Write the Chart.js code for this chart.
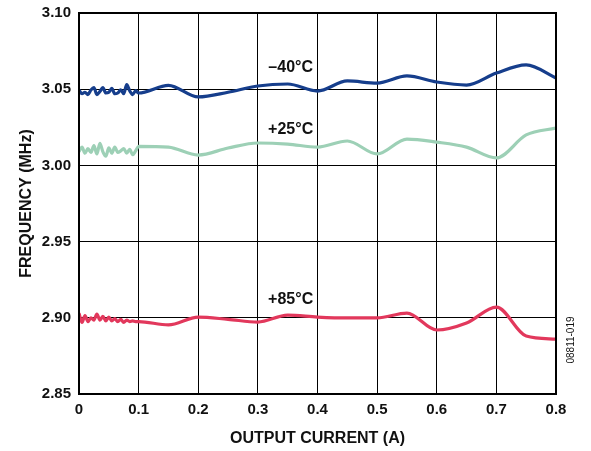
<!DOCTYPE html>
<html>
<head>
<meta charset="utf-8">
<script src="https://cdn.jsdelivr.net/npm/chart.js@4"></script>
<style>
  html, body { margin: 0; padding: 0; background: #fff; }
  #wrap { width: 591px; height: 451px; }
</style>
</head>
<body>
<div id="wrap"><canvas id="chart" width="591" height="451"></canvas></div>
<script>
// output current (A)
const currentA = [
  0, 0.005, 0.01, 0.015, 0.02, 0.025, 0.03, 0.035, 0.04, 0.045, 0.05,
  0.055, 0.06, 0.065, 0.07, 0.075, 0.08, 0.085, 0.09, 0.095, 0.1,
  0.15, 0.2, 0.25, 0.3, 0.35, 0.4, 0.45, 0.5, 0.55, 0.6, 0.65, 0.7, 0.75, 0.8
];

// frequency (MHz) per temperature
const freqM40 = [
  3.0495, 3.047, 3.048, 3.0465, 3.0495, 3.051, 3.0465, 3.0485, 3.051, 3.0475, 3.048,
  3.0505, 3.047, 3.0475, 3.0495, 3.047, 3.053, 3.049, 3.0465, 3.049, 3.0475,
  3.0525, 3.0449, 3.048, 3.0521, 3.0534, 3.0488, 3.0554, 3.054, 3.0587, 3.0547, 3.0527, 3.0606, 3.0659, 3.0573
];
const freq25 = [
  3.009, 3.012, 3.008, 3.011, 3.0085, 3.013, 3.0075, 3.0145, 3.009, 3.006, 3.0115,
  3.008, 3.012, 3.0085, 3.0095, 3.011, 3.008, 3.0105, 3.007, 3.0095, 3.0125,
  3.012, 3.0068, 3.0114, 3.0147, 3.014, 3.012, 3.016, 3.0075, 3.0173, 3.0153, 3.012, 3.0049, 3.020, 3.0245
];
const freq85 = [
  2.903, 2.897, 2.9015, 2.8975, 2.900, 2.8985, 2.9025, 2.8985, 2.901, 2.898, 2.9005,
  2.898, 2.8995, 2.8975, 2.899, 2.897, 2.8985, 2.8975, 2.898, 2.8975, 2.8975,
  2.8953, 2.9005, 2.899, 2.8972, 2.9018, 2.9005, 2.8999, 2.8999, 2.9031, 2.892, 2.8966, 2.907, 2.888, 2.886
];

const seriesNames = ['\u201340\u00B0C', '+25\u00B0C', '+85\u00B0C'];
const seriesColors = ['#163e8c', '#9dd0b6', '#e2385c'];
// where each curve label sits (data coords)
const labelX = [0.355, 0.355, 0.355];
const labelY = [3.0639, 3.0232, 2.9117];

const FONT = '"Liberation Sans", Arial, Helvetica, sans-serif';

function pts(ys) {
  return currentA.map((x, i) => ({ x: x, y: ys[i] }));
}

const frame = {
  id: 'frame',
  afterDraw(chart) {
    const { ctx, chartArea: a } = chart;
    ctx.save();
    ctx.strokeStyle = '#000';
    ctx.lineWidth = 2;
    ctx.strokeRect(a.left, a.top, a.right - a.left, a.bottom - a.top);
    ctx.restore();
  }
};

const curveLabels = {
  id: 'curveLabels',
  afterDatasetsDraw(chart) {
    const { ctx, scales } = chart;
    ctx.save();
    ctx.fillStyle = '#111';
    ctx.font = 'bold 16px ' + FONT;
    ctx.textAlign = 'center';
    ctx.textBaseline = 'middle';
    seriesNames.forEach((name, i) => {
      ctx.fillText(name, scales.x.getPixelForValue(labelX[i]), scales.y.getPixelForValue(labelY[i]));
    });
    // figure code on the right side
    ctx.font = '10px ' + FONT;
    ctx.translate(571, 340);
    ctx.rotate(-Math.PI / 2);
    ctx.fillText('08811-019', 0, 0);
    ctx.restore();
  }
};

const ctx = document.getElementById('chart').getContext('2d');
new Chart(ctx, {
  type: 'line',
  data: {
    datasets: [freqM40, freq25, freq85].map((ys, i) => ({
      label: seriesNames[i],
      data: pts(ys),
      borderColor: seriesColors[i],
      borderWidth: 3.2,
      pointRadius: 0,
      fill: false,
      cubicInterpolationMode: 'monotone'
    }))
  },
  options: {
    responsive: false,
    animation: false,
    layout: { padding: { top: 13, right: 35, bottom: 0, left: 0 } },
    plugins: {
      legend: { display: false },
      tooltip: { enabled: false }
    },
    scales: {
      x: {
        type: 'linear',
        min: 0,
        max: 0.8,
        afterFit: (s) => { s.height = 57; s.paddingLeft = 0; s.paddingRight = 0; },
        ticks: {
          stepSize: 0.1,
          padding: 7,
          color: '#111',
          font: { family: FONT, size: 15, weight: 'bold' },
          callback: (v) => (v === 0 ? '0' : v.toFixed(1))
        },
        grid: { color: '#000', lineWidth: 1, drawTicks: false },
        border: { display: false },
        title: {
          display: true,
          text: 'OUTPUT CURRENT (A)',
          color: '#111',
          font: { family: FONT, size: 16, weight: 'bold' },
          padding: { top: 0, bottom: 3 }
        }
      },
      y: {
        min: 2.85,
        max: 3.10,
        afterFit: (s) => { s.width = 79; s.paddingTop = 0; s.paddingBottom = 0; },
        ticks: {
          stepSize: 0.05,
          padding: 8,
          color: '#111',
          font: { family: FONT, size: 15, weight: 'bold' },
          callback: (v) => v.toFixed(2)
        },
        grid: { color: '#000', lineWidth: 1, drawTicks: false },
        border: { display: false },
        title: {
          display: true,
          text: 'FREQUENCY (MHz)',
          color: '#111',
          font: { family: FONT, size: 16, weight: 'bold' },
          padding: { top: 17, bottom: 0 }
        }
      }
    }
  },
  plugins: [frame, curveLabels]
});
</script>
</body>
</html>
